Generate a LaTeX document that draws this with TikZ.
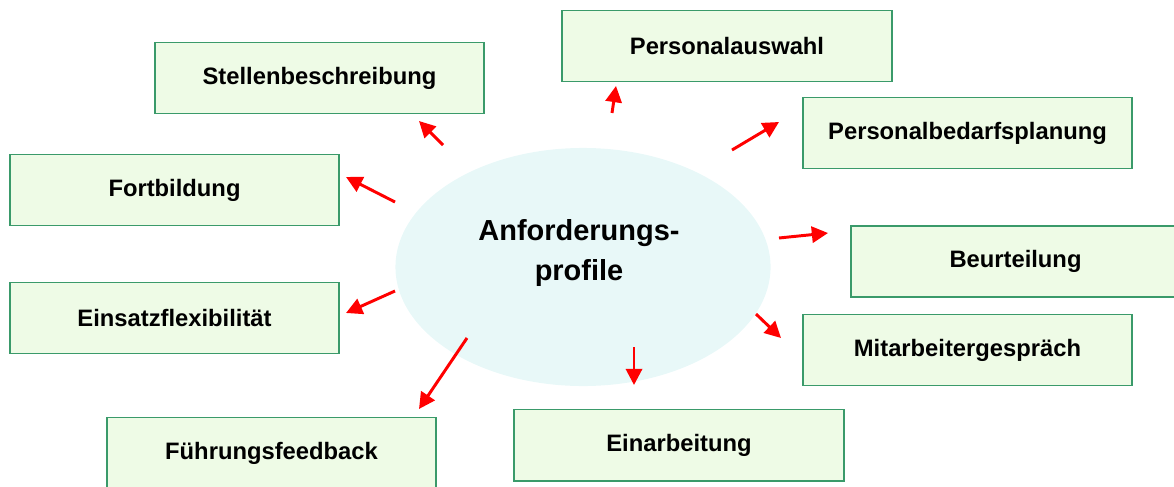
\documentclass[tikz,border=0pt]{standalone}
\usepackage{fontspec}
\setmainfont{Liberation Sans}
\usepackage{tikz}
\usetikzlibrary{arrows.meta}
\usetikzlibrary{shapes.geometric}

\definecolor{boxfill}{HTML}{EEFBE6}
\definecolor{boxline}{HTML}{3A9A6A}
\definecolor{ovalfill}{HTML}{E8F8F8}

\begin{document}
\begin{tikzpicture}[x=0.025cm, y=-0.025cm,
        taskbox/.style={draw=boxline, fill=boxfill, line width=1.4pt,
            minimum width=8.225cm, minimum height=1.775cm, inner sep=0pt,
            font=\bfseries\fontsize{16.9}{20}\selectfont},
        redarrow/.style={draw=red, line width=2.1pt,
            -{Triangle[length=11.5pt, width=11.5pt]}}]
                \useasboundingbox (0, 0) rectangle (1174, 486);
                \clip (0, 0) rectangle (1174, 486);

                \node[ellipse, fill=ovalfill, minimum width=9.375cm, minimum height=5.95cm,
                    inner sep=0pt] (profile) at (583, 267) {};
                \node[align=center, font=\bfseries\fontsize{20.6}{29}\selectfont]
                    (profiletext) at (579, 253) {Anforderungs-\\profile};

                \node[taskbox] (stelle) at (319.5, 78)     {Stellenbeschreibung};
                \node[taskbox] (auswahl) at (727, 46)      {Personalauswahl};
                \node[taskbox] (bedarf) at (967.5, 133)    {Personalbedarfsplanung};
                \node[taskbox] (fort) at (174.5, 190)      {Fortbildung};
                \node[taskbox] (beurt) at (1015.5, 261.5)  {Beurteilung};
                \node[taskbox] (einsatz) at (174.5, 318)   {Einsatzflexibilität};
                \node[taskbox] (gespr) at (967.5, 350)     {Mitarbeitergespräch};
                \node[taskbox] (fuehr) at (271.5, 453)     {Führungsfeedback};
                \node[taskbox] (einarb) at (679, 445)      {Einarbeitung};

                % arrow ends
                \coordinate (s1) at (443, 145);  \coordinate (t1) at (419, 121);
                \coordinate (s2) at (612, 113);  \coordinate (t2) at (616, 86);
                \coordinate (s3) at (732, 150);  \coordinate (t3) at (779, 122);
                \coordinate (s4) at (395, 202);  \coordinate (t4) at (346, 177);
                \coordinate (s5) at (779, 238);  \coordinate (t5) at (828, 233);
                \coordinate (s6) at (395, 291);  \coordinate (t6) at (346, 313);
                \coordinate (s7) at (756, 314);  \coordinate (t7) at (781, 338);
                \coordinate (s8) at (634, 347);  \coordinate (t8) at (634, 385);
                \coordinate (s9) at (467, 338);  \coordinate (t9) at (419, 409);

                \draw[redarrow] (s1) -- (t1);
                \draw[redarrow] (s2) -- (t2);
                \draw[redarrow] (s3) -- (t3);
                \draw[redarrow] (s4) -- (t4);
                \draw[redarrow] (s5) -- (t5);
                \draw[redarrow] (s6) -- (t6);
                \draw[redarrow] (s7) -- (t7);
                \draw[redarrow] (s8) -- (t8);
                \draw[redarrow] (s9) -- (t9);
            \end{tikzpicture}
\end{document}
